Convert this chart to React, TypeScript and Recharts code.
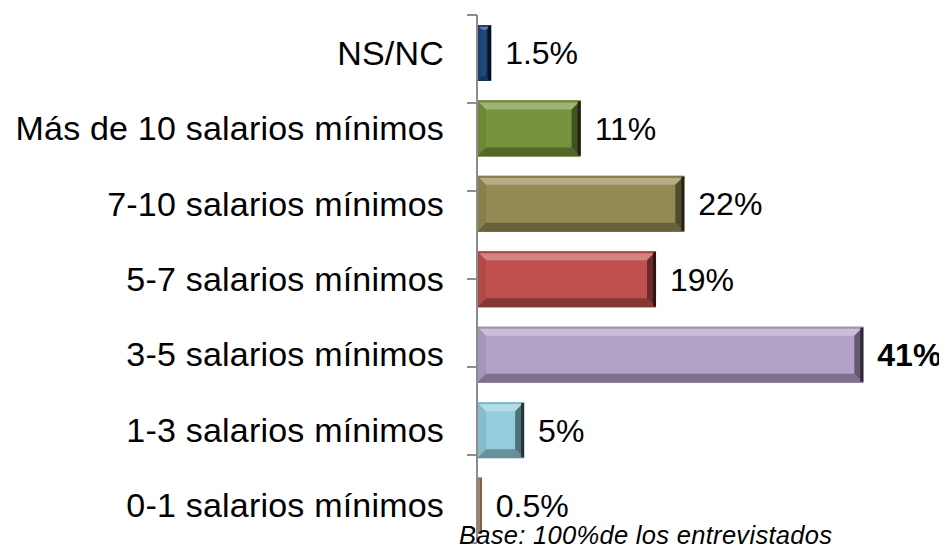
import React from 'react';
import { BarChart, Bar, XAxis, YAxis, LabelList } from 'recharts';

const categories = [
  'NS/NC',
  'Más de 10 salarios mínimos',
  '7-10 salarios mínimos',
  '5-7 salarios mínimos',
  '3-5 salarios mínimos',
  '1-3 salarios mínimos',
  '0-1 salarios mínimos',
];
const values = [1.5, 11, 22, 19, 41, 5, 0.5];
const colors = ['#1F497D', '#77933C', '#948A54', '#C0504D', '#B3A2C7', '#93CDDD', '#B08360'];
const boundaryTicks = [0, 1, 2, 3, 4, 5, 6, 7];

const data = categories.map((name, i) => ({ name, value: values[i], color: colors[i] }));
const maxValue = Math.max(...values);

const FONT = '"Liberation Sans", Arial, Helvetica, sans-serif';

const mix = (hex: string, target: number, t: number) => {
  const n = parseInt(hex.slice(1), 16);
  const ch = [(n >> 16) & 255, (n >> 8) & 255, n & 255].map(c => Math.round(c + (target - c) * t));
  return `rgb(${ch[0]},${ch[1]},${ch[2]})`;
};

// bevelled bar, like the old office 3d style
const BevelBar = (props: any) => {
  const { x, y, width, height, payload } = props;
  if (!width || width <= 0) return null;
  const c = payload.color;
  const b = Math.min(9, width / 3, height / 2);
  const r = x + width;
  const btm = y + height;
  const narrow = width < 10;
  const edge = Math.min(3, width / 4);
  return (
    <g>
      <rect x={x} y={y} width={width} height={height} fill={c} />
      <polygon points={`${x},${y} ${r},${y} ${r - b},${y + b} ${x + b},${y + b}`} fill={mix(c, 255, 0.3)} />
      <rect x={x} y={y} width={width} height={2} fill={mix(c, 0, 0.1)} />
      <polygon points={`${x},${y} ${x + b},${y + b} ${x + b},${btm - b} ${x},${btm}`} fill={mix(c, 0, 0.08)} />
      <polygon points={`${x},${btm} ${x + b},${btm - b} ${r - b},${btm - b} ${r},${btm}`} fill={mix(c, 0, 0.3)} />
      <polygon points={`${r},${y} ${r},${btm} ${r - b},${btm - b} ${r - b},${y + b}`} fill={mix(c, 0, narrow ? 0.2 : 0.45)} />
      <rect x={r - edge} y={y + 1} width={edge} height={height - 2} fill={mix(c, 0, narrow ? 0.35 : 0.75)} />
    </g>
  );
};

const ValueLabel = (props: any) => {
  const { x, y, width, height, value } = props;
  const bold = value === maxValue;
  return (
    <text
      x={x + width + 14}
      y={y + height / 2}
      dy="0.355em"
      fontSize={32}
      fontFamily={FONT}
      fontWeight={bold ? 'bold' : 'normal'}
      fill="#000"
    >
      {`${value}%`}
    </text>
  );
};

export default function App() {
  return (
    <div style={{ position: 'relative', width: 939, height: 541 }}>
      <BarChart
        width={939}
        height={541}
        data={data}
        layout="vertical"
        margin={{ top: 7, right: 46, bottom: 6, left: 0 }}
      >
        <XAxis type="number" domain={[0, 45]} hide />
        <YAxis
          yAxisId="a"
          type="number"
          orientation="left"
          domain={[0, 7]}
          ticks={boundaryTicks}
          tickFormatter={() => ''}
          width={1}
          tickSize={10}
          axisLine={{ stroke: '#8c8c8c', strokeWidth: 2 }}
          tickLine={{ stroke: '#8c8c8c', strokeWidth: 2 }}
        />
        <YAxis
          yAxisId="z"
          type="category"
          dataKey="name"
          width={468}
          axisLine={false}
          tickLine={false}
          tickSize={0}
          tickMargin={32}
          interval={0}
          tick={{ fontSize: 34, fill: '#000', fontFamily: FONT, letterSpacing: 0.2 }}
        />
        <Bar yAxisId="z" dataKey="value" barSize={56} shape={BevelBar} isAnimationActive={false}>
          <LabelList dataKey="value" content={ValueLabel} />
        </Bar>
      </BarChart>
      <div
        style={{
          position: 'absolute',
          left: 451,
          top: 515,
          fontFamily: FONT,
          fontStyle: 'italic',
          fontSize: 25.5,
          lineHeight: '25.5px',
          letterSpacing: 0.3,
          whiteSpace: 'nowrap',
          color: '#000',
        }}
      >
        Base: 100%de los entrevistados
      </div>
    </div>
  );
}
